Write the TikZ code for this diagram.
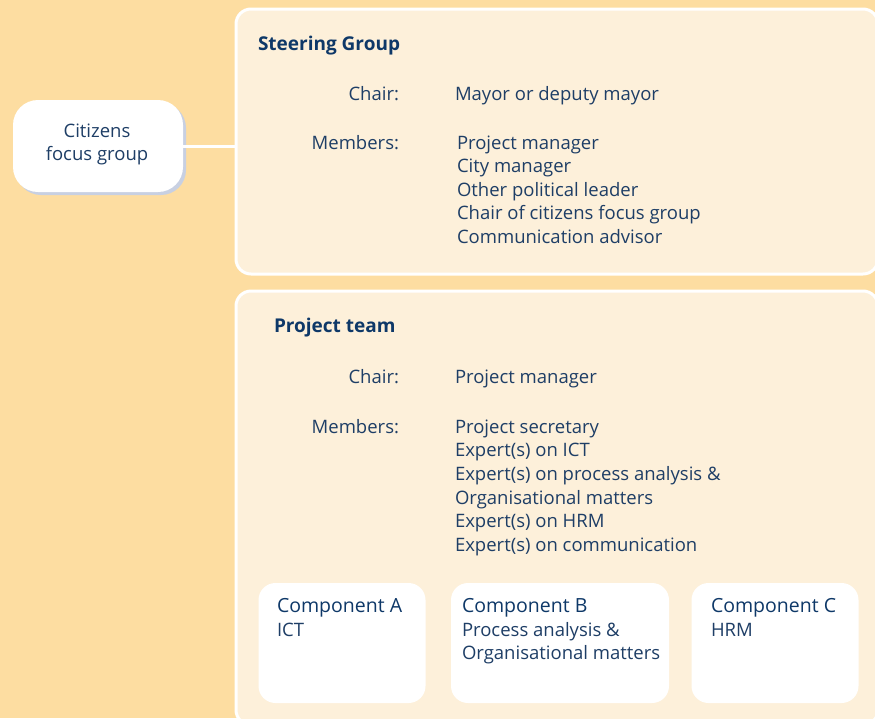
\documentclass[tikz,border=0pt]{standalone}
\usepackage{fontspec}
\setmainfont{Open Sans}
\definecolor{bgc}{RGB}{253,221,161}
\definecolor{panelc}{RGB}{253,240,218}
\definecolor{txtc}{RGB}{30,62,102}
\definecolor{headc}{RGB}{14,56,104}
\definecolor{shadc}{RGB}{200,208,226}
\tikzset{
  txt/.style={inner sep=0pt, outer sep=0pt, text=txtc, font=\fontsize{18.5}{23.5}\selectfont},
  head/.style={inner sep=0pt, outer sep=0pt, text=headc, font=\fontsize{19}{23.5}\selectfont\bfseries},
  comphead/.style={inner sep=0pt, outer sep=0pt, text=headc, font=\fontsize{19.5}{23.5}\selectfont},
  panel/.style={draw=white, line width=3pt, fill=panelc, rounded corners=15pt, inner sep=0pt, outer sep=0pt},
  compbox/.style={fill=white, rounded corners=17pt, inner sep=0pt, outer sep=0pt},
  citbox/.style={fill=white, rounded corners=25pt, inner sep=0pt, outer sep=0pt},
  link/.style={draw=white, line width=3pt}
}
\begin{document}
\begin{tikzpicture}[x=1pt,y=-1pt]
\useasboundingbox (0,0) rectangle (875,718);
\clip (0,0) rectangle (875,718);
\fill[bgc] (0,0) rectangle (875,718);
% panels
\node[panel, minimum width=642pt, minimum height=265pt] (steer) at (557,141.5) {};
\node[panel, minimum width=642pt, minimum height=434pt] (team) at (557,508) {};
% citizens focus group
\fill[shadc, rounded corners=25pt] (16,103) rectangle (186,195);
\node[citbox, minimum width=170pt, minimum height=92pt] (cit) at (98,146) {};
\node[txt, anchor=base] (cit1) at (97,137) {Citizens};
\node[txt, anchor=base] (cit2) at (97,160) {focus group};
\draw[link] (cit.east) -- (steer.west |- cit.east);
% steering group
\node[head, anchor=base west] (sgt) at (258,50) {Steering Group};
\node[txt, anchor=base east] (sgc) at (399,100) {Chair:};
\node[txt, anchor=base west] (sgcv) at (455,100) {Mayor or deputy mayor};
\node[txt, anchor=base east] (sgm) at (399,149) {Members:};
\foreach [count=\i] \t in {Project manager, City manager, Other political leader, Chair of citizens focus group, Communication advisor}
  \node[txt, anchor=base west] (sgm\i) at (457,{149+23.5*(\i-1)}) {\t};
% project team
\node[head, anchor=base west] (ptt) at (274,332) {Project team};
\node[txt, anchor=base east] (ptc) at (399,383) {Chair:};
\node[txt, anchor=base west] (ptcv) at (455,383) {Project manager};
\node[txt, anchor=base east] (ptm) at (399,433) {Members:};
\foreach [count=\i] \t in {Project secretary, Expert(s) on ICT, Expert(s) on process analysis \&, Organisational matters, Expert(s) on HRM, Expert(s) on communication}
  \node[txt, anchor=base west] (ptm\i) at (455,{433+23.7*(\i-1)}) {\t};
% components
\node[compbox, minimum width=167pt, minimum height=120pt] (ca) at (342,643) {};
\node[compbox, minimum width=218pt, minimum height=120pt] (cb) at (560,643) {};
\node[compbox, minimum width=167pt, minimum height=120pt] (cc) at (775,643) {};
\node[comphead, anchor=base west] (ca1) at (277,612) {Component A};
\node[txt, anchor=base west] (ca2) at (277,636) {ICT};
\node[comphead, anchor=base west] (cb1) at (462,612) {Component B};
\node[txt, anchor=base west] (cb2) at (462,636) {Process analysis \&};
\node[txt, anchor=base west] (cb3) at (462,659) {Organisational matters};
\node[comphead, anchor=base west] (cc1) at (711,612) {Component C};
\node[txt, anchor=base west] (cc2) at (711,636) {HRM};
\end{tikzpicture}
\end{document}
